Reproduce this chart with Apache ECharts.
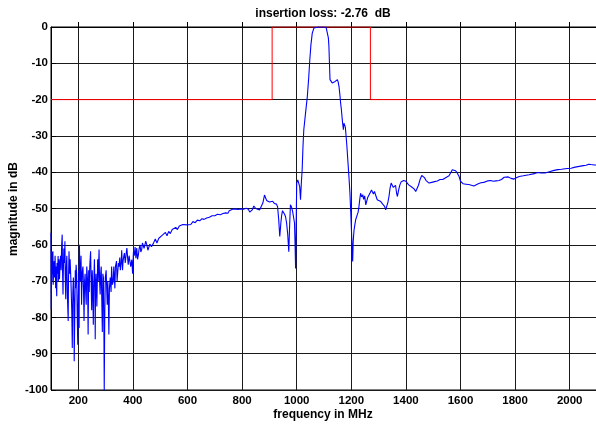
<!DOCTYPE html>
<html>
<head>
<meta charset="utf-8">
<script src="https://cdn.jsdelivr.net/npm/echarts@6/dist/echarts.min.js"></script>
<style>html,body{margin:0;padding:0;background:#fff}#c{width:596px;height:425px}</style>
</head>
<body>
<div id="c"></div>
<script>
var freqMHz = [100,101,102,103,104,106,107,108,110,112,113,115,117,118,121,122,124,126,127,129,131,133,135,137,139,141,142,144,145,147,149,151,152,154,156,158,160,163,164,166,168,170,173,176,178,180,182,184,185,187,189,190,192,194,196,198,200,202,203,204,206,208,210,212,214,217,219,221,223,225,227,229,231,234,236,238,240,242,245,247,249,251,253,255,257,259,261,262,263,265,268,271,273,276,278,280,282,284,286,288,290,292,294,295,297,299,302,304,306,308,310,312,314,317,320,322,325,328,330,334,336,340,342,347,349,352,354,357,359,362,364,
367,369,372,374,376,378,381,383,386,389,392,396,399,402,405,408,411,414,417,420,423,426,429,432,435,438,441,444,447,451,
455,462,468,475,482,488,495,501,507,513,519,525,531,537,544,551,557,563,570,576,583,590,598,605,612,620,628,636,645,653,661,670,680,690,700,710,720,730,740,748,753,758,765,775,785,795,805,815,823,828,832,837,843,850,857,864,870,876,882,886,890,895,900,905,912,918,922,926,930,934,938,942,945,948,951,955,959,963,967,971,974,977,981,985,989,992,994,996,998,
1000,1004,1008,1011,1014,1017,1020,1023,1026,1032,1039,1044,1048,1052,1057,1063,1070,1080,1090,1100,1108,1112,1116,1118,1120,1122,1126,1130,1134,1137,1141,1145,1149,1152,1155,1158,1161,1164,1167,1169,1171,1173,1176,1178,1180,1184,1188,1192,1195,1198,1201,1203,1205,1207,1210,1213,1216,1219,1222,1225,1228,1231,1234,1238,1242,1245,1249,1253,1256,1260,1265,1270,1274,1277,1281,1285,1290,1295,1300,1308,1315,1322,1326,1330,1334,1338,1342,1346,1350,1354,1358,1362,1366,1369,1373,1378,1383,1387,1392,1400,1410,1420,1430,1436,1440,1446,1452,1458,1463,1468,1474,1480,1485,1495,1505,1515,1525,1535,1540,1550,1558,1565,1570,1576,1582,1588,1595,1600,1604,1610,1620,1630,1640,1649,1656,1665,1675,1685,1699,1711,1720,1730,1741,1750,1760,1766,1775,1785,1796,1805,1815,1830,1851,1870,1882,1895,1910,1925,1943,1956,1970,1990,2005,2020,2035,2050,2060,2070,2078,2090,2100];
var magDB = [-56.7,-77.8,-64,-70,-62,-68,-61.8,-71,-66,-64.5,-69,-63,-72,-66,-74.2,-65,-68,-63.1,-70,-64,-69.5,-65,-63,-67,-60,-57.2,-66,-73.7,-68,-61,-65,-59,-68,-75,-66,-63,-74,-81,-70,-61.8,-68,-64,-70,-78,-88.4,-73,-69,-76,-92.1,-80,-67,-72,-65.5,-68,-79,-87.5,-74,-67,-82.9,-60,-67,-70,-63,-76.5,-68,-66,-72,-81,-70,-68,-73,-76.5,-66,-70,-84.7,-67,-73,-66,-61.8,-70,-78,-67,-72,-82,-70,-64,-72,-86,-74,-68,-77,-64,-70,-61.3,-70,-73.7,-68,-66,-75,-84,-68,-69,-86,-100,-79,-69,-67,-72,-76.5,-70,-75,-84.7,-72,-69,-73,-66,-71,-70,-66,-72,-66,-64.5,-70,-65,-66,-63.5,-67,-65,-61.5,-67,-64.5,
-63,-62.3,-65,-64.6,-62,-60.9,-64,-65.5,-63,-62.8,-66,-64.1,-68,-61.9,-63,-60.6,-63.7,-60.9,-64,-62.8,-61,-60.0,-62,-61.4,-59.5,-59.6,-61,-60.9,-59,-60.0,
-61.5,-59.8,-60.5,-59.6,-58.4,-59.5,-58.2,-58.6,-57.4,-57.7,-56.6,-57.5,-56.3,-56.9,-55.8,-56.1,-55.2,-55.8,-54.8,-55.3,-54.4,-54.9,-54.5,-54.0,-54.4,-53.6,-53.9,-53.2,-53.4,-52.8,-53.0,-52.6,-52.4,-52.0,-52.0,-51.6,-51.7,-51.4,-51.2,-51.3,-50.6,-50.4,-50.2,-50.1,-50.3,-50.1,-50.2,-49.9,-50.2,-51.0,-51.4,-50.4,-49.3,-50.0,-49.8,-50.4,-50.0,-48.5,-46.3,-46.5,-47.8,-47.6,-48.2,-48.4,-48.0,-48.6,-48.1,-48.8,-49.5,-53,-57.7,-54,-51.8,-50.6,-50.4,-51.5,-52.2,-54,-57,-61.9,-55,-49,-49.6,-50.8,-51,-54,-60,-66.5,-55,
-43,-42.1,-41.6,-44,-47.6,-43,-39.3,-33,-28.3,-24,-19.1,-14,-9.0,-5,-1.7,-0.3,0,0,0,0,-0.2,-0.5,-3,-5.3,-10,-14.5,-15.0,-15.4,-15.8,-15.6,-15.0,-15.4,-14.5,-15.2,-16.4,-18.5,-21,-23,-25.6,-27,-28.3,-26.5,-26,-27.5,-29.2,-33,-37.5,-42,-45.8,-51,-56.8,-61,-64.6,-59,-56.0,-54.5,-53.1,-53.5,-52.7,-51,-49.5,-47.5,-45.8,-46.8,-46.2,-47.5,-46.5,-49.0,-49.5,-47.0,-46.6,-45.5,-44.9,-44.7,-46.0,-45.3,-46.5,-47.6,-47.2,-48.1,-48.8,-49.4,-50.4,-50.4,-48.3,-46.7,-44.4,-43.0,-42.6,-44.2,-44.5,-43.6,-45.8,-46.7,-45.0,-43.5,-42.6,-42.1,-42.3,-42.5,-43.5,-44.0,-44.6,-45.3,-45.3,-43.6,-42.0,-40.9,-40.7,-41.5,-42.3,-42.8,-43.0,-42.8,-42.6,-42.4,-42.0,-42.0,-41.8,-41.3,-41.0,-40.0,-39.3,-39.2,-39.6,-40.2,-41.2,-42.5,-43.0,-43.2,-43.3,-43.4,-43.6,-43.8,-43.6,-43.2,-42.9,-42.8,-42.4,-42.3,-42.5,-42.4,-42.3,-42.0,-41.4,-41.2,-41.3,-41.7,-41.9,-41.5,-41.2,-41.0,-40.7,-40.4,-40.1,-40.2,-40.2,-39.9,-39.5,-39.3,-39.2,-39.0,-38.9,-38.6,-38.4,-38.2,-38.1,-37.8,-37.9,-38.0,-38.0];
var maskFreq = [100, 910, 910, 1270, 1270, 2100];
var maskDB = [-20, -20, 0, 0, -20, -20];
var xTicks = [200, 400, 600, 800, 1000, 1200, 1400, 1600, 1800, 2000];
var titleText = 'insertion loss: -2.76  dB';
var xName = 'frequency in MHz';
var yName = 'magnitude in dB';

var trace = freqMHz.map(function (f, i) { return [f, magDB[i]]; });
var mask = maskFreq.map(function (f, i) { return [f, maskDB[i]]; });

var FONT = 'Liberation Sans, Arial, sans-serif';
var chart = echarts.init(document.getElementById('c'), null, {renderer: 'canvas'});
chart.setOption({
  animation: false,
  backgroundColor: '#fff',
  grid: {left: 51, right: -1, top: 27, bottom: 35, show: true, borderColor: '#000', borderWidth: 1,
    containLabel: false, outerBoundsMode: 'none'},
  graphic: [{
    type: 'text', x: 323, y: 14,
    style: {text: titleText, textAlign: 'center', textVerticalAlign: 'middle', fill: '#000',
      font: 'bold 12px ' + FONT}
  }, {
    type: 'text', x: 323, y: 415,
    style: {text: xName, textAlign: 'center', textVerticalAlign: 'middle', fill: '#000',
      font: 'bold 12px ' + FONT}
  }, {
    type: 'text', x: 14, y: 209, rotation: Math.PI / 2,
    style: {text: yName, textAlign: 'center', textVerticalAlign: 'middle', fill: '#000',
      font: 'bold 12px ' + FONT}
  }],
  xAxis: {
    type: 'value', min: 100, max: 2100, splitNumber: 10,
    axisLine: {show: true, lineStyle: {color: '#000', width: 1}},
    axisTick: {show: true, inside: true, length: 5, lineStyle: {color: '#000'}},
    splitLine: {show: true, lineStyle: {color: '#1a1a1a', width: 1}},
    axisLabel: {
      color: '#000', fontWeight: 'bold', fontSize: 11.5, fontFamily: FONT, margin: 5,
      showMinLabel: false, showMaxLabel: false,
      formatter: function (v) { return xTicks.indexOf(v) >= 0 ? String(v) : ''; }
    }
  },
  yAxis: {
    type: 'value', min: -100, max: 0, interval: 10,
    axisLine: {show: true, lineStyle: {color: '#000', width: 1}},
    axisTick: {show: true, inside: true, length: 5, lineStyle: {color: '#000'}},
    splitLine: {show: true, lineStyle: {color: '#1a1a1a', width: 1}},
    axisLabel: {color: '#000', fontWeight: 'bold', fontSize: 11.5, fontFamily: FONT, margin: 3}
  },
  series: [
    {type: 'line', data: mask, showSymbol: false, symbol: 'none', silent: true,
      lineStyle: {color: '#ff0000', width: 1}, z: 3},
    {type: 'line', data: trace, showSymbol: false, symbol: 'none', silent: true,
      lineStyle: {color: '#0000ff', width: 1.1}, z: 4}
  ]
});
</script>
</body>
</html>
